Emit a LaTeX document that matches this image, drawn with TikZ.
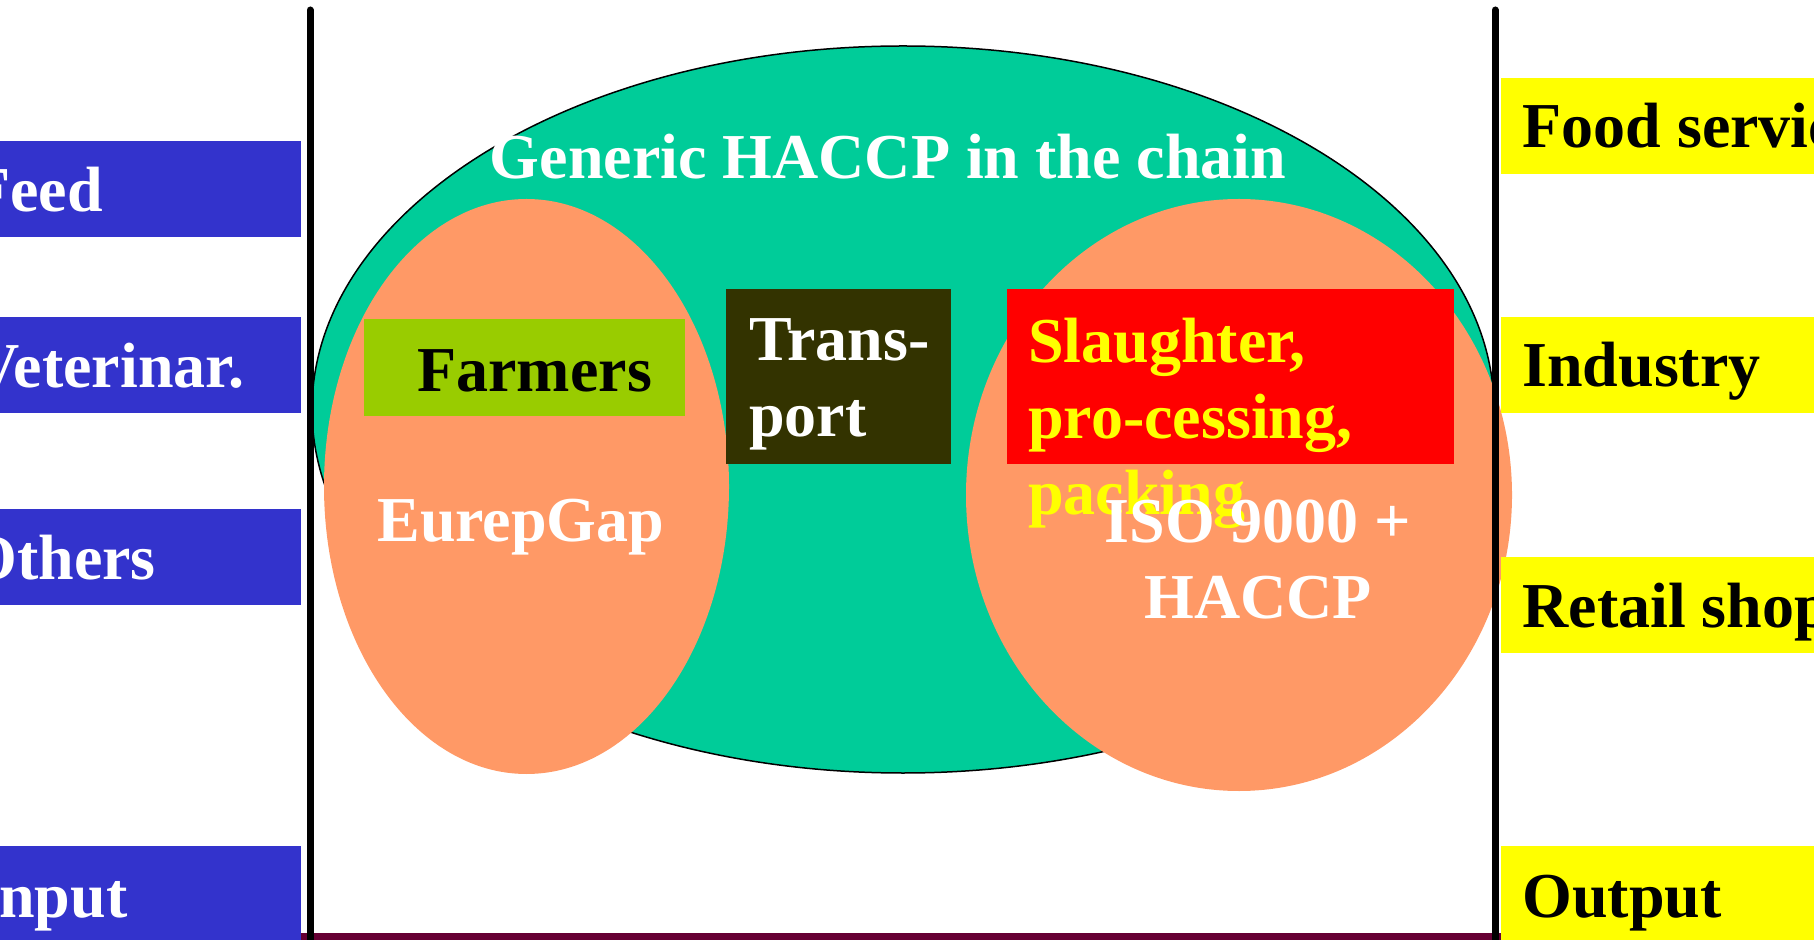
\documentclass[tikz,border=0pt]{standalone}
\usepackage{fontspec}
\setmainfont{Liberation Serif}
\definecolor{inblue}{HTML}{3333CC}
\definecolor{outyellow}{HTML}{FFFF00}
\definecolor{chainteal}{HTML}{00CC99}
\definecolor{certsalmon}{HTML}{FF9966}
\definecolor{farmgreen}{HTML}{99CC00}
\definecolor{transdark}{HTML}{333300}
\definecolor{floormaroon}{HTML}{660033}
\tikzset{
  bigtxt/.style={font=\fontsize{32}{38}\selectfont\bfseries,inner sep=0pt,anchor=base west},
  intxt/.style={bigtxt,text=white},
  outtxt/.style={bigtxt,text=black},
}
\begin{document}
\begin{tikzpicture}[x=0.5pt,y=-0.5pt]
  \useasboundingbox (0,0) rectangle (1814,940);
  \clip (0,0) rectangle (1814,940);
  %% chain ellipse
  \filldraw[fill=chainteal,draw=black,line width=0.75pt] (903,409.5) ellipse [x radius=591,y radius=363.5];
  %% certification ellipses
  \fill[certsalmon] (526.5,486.5) ellipse [x radius=202.5,y radius=287.5];
  \fill[certsalmon] (1239,495) ellipse [x radius=273,y radius=296];
  %% input side
  \foreach \t in {141,317,509,846}
    \fill[inblue] (0,\t) rectangle (301,\t+96);
  \node[intxt] (feed) at (-29,212) {Feed};
  \node[intxt] (vet) at (-27,388) {Veterinar.};
  \node[intxt] (others) at (-33,580) {Others};
  \node[intxt] (input) at (-26,917) {Input};
  %% output side
  \foreach \t in {78,317,557,846}
    \fill[outyellow] (1501,\t) rectangle (1814,\t+96);
  \node[outtxt] (food) at (1522,148) {Food service};
  \node[outtxt] (industry) at (1522,387) {Industry};
  \node[outtxt] (retail) at (1522,627) {Retail shop};
  \node[outtxt] (output) at (1522,917) {Output};
  %% chain members
  \fill[farmgreen] (364,319) rectangle (685,416);
  \node[outtxt] (farmers) at (417,392) {Farmers};
  \fill[transdark] (726,289) rectangle (951,464);
  \node[intxt,align=left] (transport) at (749,437) {Trans-\\port};
  \fill[red] (1007,289) rectangle (1454,464);
  \node[bigtxt,text=outyellow,align=left] (slaughter) at (1028,515) {Slaughter,\\pro-cessing,\\packing};
  \node[intxt] (eurepgap) at (377,541) {EurepGap};
  \node[intxt,anchor=base,align=center] (iso) at (1258,618) {ISO 9000 +\\HACCP};
  \node[intxt,anchor=base] (generic) at (888,179) {Generic HACCP in the chain};
  %% frame
  \draw[floormaroon,line width=3.5pt] (301,936.5) -- (1501,936.5);
  \draw[line width=3.5pt,line cap=round] (310,10) -- (310,950);
  \draw[line width=3.5pt,line cap=round] (1495,10) -- (1495,950);
\end{tikzpicture}
\end{document}
